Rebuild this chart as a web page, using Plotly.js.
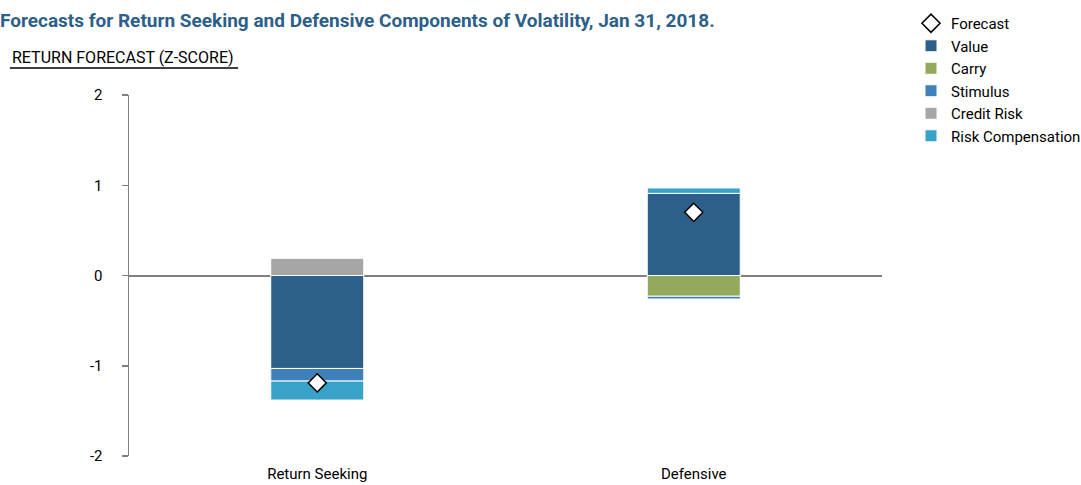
<!DOCTYPE html>
<html><head><meta charset="utf-8">
<script src="https://cdn.plot.ly/plotly-3.0.1.min.js"></script>
<style>body{margin:0;padding:0;background:#fff}#chart{width:1081px;height:485px}</style>
</head><body><div id="chart"></div>
<script>
const categories = ["Return Seeking", "Defensive"];
const value = [-1.03, 0.91];
const carry = [0, -0.23];
const stimulus = [-0.14, -0.03];
const creditRisk = [0.19, 0];
const riskCompensation = [-0.21, 0.06];
const forecast = [-1.19, 0.70];
const yTicks = [-2, -1, 0, 1, 2];

const FONT = "Roboto, 'Liberation Sans', sans-serif";
const colors = {
  value: "#2d6089", carry: "#93a95c", stimulus: "#3f80bb",
  credit: "#a6a6a6", risk: "#38a2c9"
};
function bar(name, y, color) {
  return {type: "bar", name: name, x: categories, y: y,
    marker: {color: color, line: {color: "#ffffff", width: 1}},
    hoverinfo: "y+name"};
}
const traces = [
  {type: "scatter", mode: "markers", name: "Forecast", x: categories, y: forecast,
   marker: {symbol: "diamond", size: 14, color: "#ffffff", line: {color: "#000000", width: 1.5}}},
  bar("Value", value, colors.value),
  bar("Carry", carry, colors.carry),
  bar("Stimulus", stimulus, colors.stimulus),
  bar("Credit Risk", creditRisk, colors.credit),
  bar("Risk Compensation", riskCompensation, colors.risk)
];
const layout = {
  width: 1081, height: 485,
  margin: {l: 129, r: 199, t: 95, b: 29},
  barmode: "relative", bargap: 0.753,
  paper_bgcolor: "#ffffff", plot_bgcolor: "#ffffff",
  font: {family: FONT, size: 15, color: "#000000"},
  title: {text: "<b>Forecasts for Return Seeking and Defensive Components of Volatility, Jan 31, 2018.</b>",
    font: {family: FONT, size: 19, color: "#2c5f8a"}, x: 0, xref: "container", xanchor: "left",
    y: 1 - 20/485, yref: "container", yanchor: "middle"},
  xaxis: {type: "category", range: [-0.5, 1.5], showline: false, showgrid: false, zeroline: false,
    ticks: "", tickfont: {size: 15}, ticklabelstandoff: 7, fixedrange: true},
  yaxis: {range: [-2, 2], tickvals: yTicks, ticktext: yTicks.map(String), showgrid: false,
    showline: true, linecolor: "#808080", linewidth: 1.5, ticks: "outside", ticklen: 6,
    tickcolor: "#808080", tickwidth: 1.5, zeroline: true, zerolinecolor: "#808080", zerolinewidth: 2,
    tickfont: {size: 15}, ticklabelstandoff: 16, fixedrange: true},
  legend: {x: 911/1081, xref: "container", xanchor: "left", y: 1 - 7/485, yref: "container", yanchor: "top",
    font: {size: 15}, tracegroupgap: 0, itemwidth: 30, bgcolor: "rgba(0,0,0,0)"},
  showlegend: true,
  annotations: [{text: "RETURN FORECAST (Z-SCORE)", xref: "paper", yref: "paper", x: -119/752, y: 1 + 38/361,
    xanchor: "left", yanchor: "middle", showarrow: false, font: {size: 16, color: "#000000"}}],
  shapes: [{type: "line", xref: "paper", yref: "paper", x0: -119/752, x1: 109/752, y0: 1 + 27/361, y1: 1 + 27/361,
    line: {color: "#000000", width: 1.5}}]
};
Plotly.newPlot("chart", traces, layout, {displayModeBar: false, staticPlot: true});
</script></body></html>
